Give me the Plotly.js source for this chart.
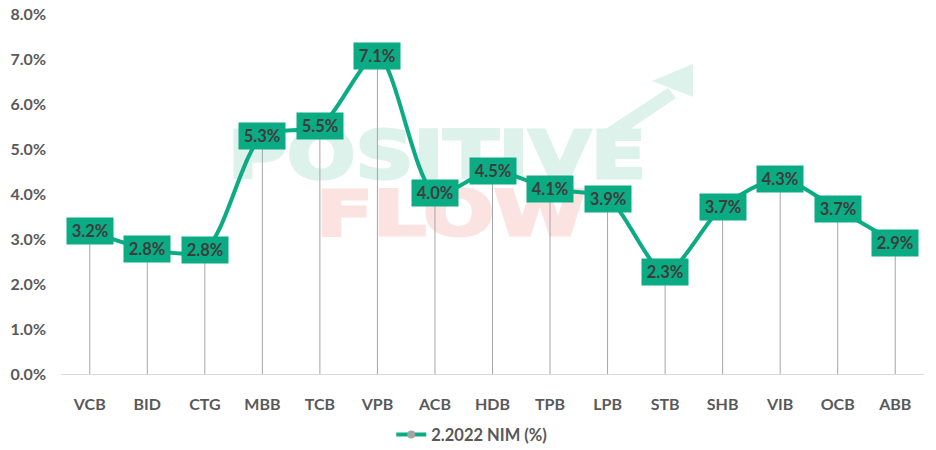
<!DOCTYPE html>
<html>
<head>
<meta charset="utf-8">
<script src="https://cdn.plot.ly/plotly-3.0.1.min.js"></script>
<style>html,body{margin:0;padding:0;background:#fff;}#chart{width:936px;height:450px;}</style>
</head>
<body>
<div id="chart"></div>
<script>
const banks = ["VCB","BID","CTG","MBB","TCB","VPB","ACB","HDB","TPB","LPB","STB","SHB","VIB","OCB","ABB"];
const nim = [3.18, 2.78, 2.76, 5.29, 5.51, 7.07, 4.02, 4.52, 4.11, 3.90, 2.27, 3.72, 4.33, 3.66, 2.92];
const seriesName = "2.2022 NIM (%)";
const yTicks = [0,1,2,3,4,5,6,7,8];

const green = "#0bab84";
const fontFam = "Lato, 'Open Sans', sans-serif";

// watermark svg (plot-area pixel coords: origin at page (61,14), size 863x360)
const ox = 61, oy = 14;
function p(x,y){return (x-ox)+","+(y-oy);}
const svg = `<svg xmlns="http://www.w3.org/2000/svg" width="863" height="360" viewBox="0 0 863 360" preserveAspectRatio="none">
<text x="${228-ox}" y="${178-oy}" font-family="DejaVu Sans" font-weight="bold" font-size="66" fill="#dcf2eb" stroke="#dcf2eb" stroke-width="3" textLength="418" lengthAdjust="spacingAndGlyphs">POSITIVE</text>
<polygon points="${p(604,130)} ${p(668,88)} ${p(676,98)} ${p(614,140)}" fill="#dcf2eb"/>
<polygon points="${p(652,81)} ${p(693,64)} ${p(693,97)}" fill="#dcf2eb"/>
<text x="${316-ox}" y="${235-oy}" font-family="DejaVu Sans" font-weight="bold" font-size="63" fill="#fbe3e1" stroke="#fbe3e1" stroke-width="3" textLength="270" lengthAdjust="spacingAndGlyphs">FLOW</text>
</svg>`;
const svgUri = "data:image/svg+xml;charset=utf-8," + encodeURIComponent(svg);

const dropTrace = {
  x: banks, y: nim, type: "scatter", mode: "markers",
  marker: {size: 1, color: "rgba(0,0,0,0)"},
  error_y: {type: "data", symmetric: false, array: nim.map(() => 0), arrayminus: nim, color: "#a6a6a6", thickness: 1, width: 0},
  showlegend: false, hoverinfo: "skip"
};
const lineTrace = {
  x: banks, y: nim, type: "scatter", mode: "lines+markers", name: seriesName,
  line: {color: green, width: 4, shape: "spline", smoothing: 0.8},
  marker: {color: "#a5a5a5", size: 8}
};

const annotations = banks.map((b, i) => ({
  x: b, y: nim[i], xref: "x", yref: "y", showarrow: false,
  text: "<b>" + nim[i].toFixed(1) + "%</b>",
  font: {family: fontFam, size: 16.5, color: "#3d3d3d"},
  bgcolor: green, width: 44, height: 24, borderpad: 1, align: "center", valign: "middle"
}));

const layout = {
  width: 936, height: 450,
  margin: {l: 61, r: 12, t: 14, b: 76, autoexpand: false},
  paper_bgcolor: "#ffffff",
  plot_bgcolor: "rgba(0,0,0,0)",
  font: {family: fontFam, color: "#595959"},
  showlegend: true,
  legend: {orientation: "h", x: 0.476, xanchor: "center", y: -0.169, yanchor: "middle",
           font: {family: fontFam, size: 16.5, color: "#595959", weight: "bold"}},
  xaxis: {
    type: "category", showgrid: false, zeroline: false, showline: true,
    linecolor: "#d9d9d9", linewidth: 1, ticks: "", ticklen: 0, ticklabelstandoff: 16,
    tickfont: {family: fontFam, size: 16, color: "#595959", weight: "bold"},
    range: [-0.5, banks.length - 0.5], automargin: false
  },
  yaxis: {
    range: [0, 8], tickvals: yTicks, ticktext: yTicks.map(v => v.toFixed(1) + "%"),
    showgrid: false, zeroline: false, showline: false, ticks: "", ticklabelstandoff: 14,
    tickfont: {family: fontFam, size: 16, color: "#595959", weight: "bold"}, automargin: false
  },
  images: [{source: svgUri, xref: "paper", yref: "paper", x: 0, y: 1, sizex: 1, sizey: 1,
            sizing: "stretch", xanchor: "left", yanchor: "top", layer: "below"}],
  annotations: annotations
};

Plotly.newPlot("chart", [dropTrace, lineTrace], layout, {displayModeBar: false, staticPlot: true});
</script>
</body>
</html>
